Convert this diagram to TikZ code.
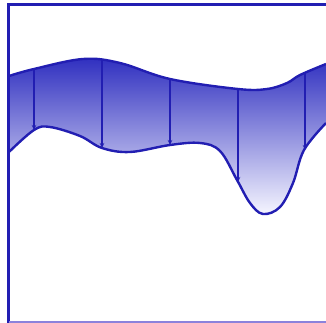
\documentclass[tikz,border=0pt]{standalone}
\usetikzlibrary{arrows.meta}
\definecolor{edgeblue}{RGB}{34,30,178}
\definecolor{shadetop}{RGB}{48,48,192}
\definecolor{shadebot}{RGB}{246,246,255}
\definecolor{framebot}{RGB}{140,130,220}
\tikzset{
  curve/.style={draw=edgeblue, line width=2.4pt, line join=round},
  flowarrow/.style={draw=edgeblue, line width=1.1pt, -{Stealth[length=5pt,width=4.5pt]}},
  frameline/.style={draw=edgeblue, line width=3pt},
}
\begin{document}
\begin{tikzpicture}[x=1pt,y=-1pt]
\useasboundingbox (0,0) rectangle (326,323);
% shaded band
\path[top color=shadetop, bottom color=shadebot]
  plot[smooth, tension=0.6] coordinates {(9,76) (34,69) (83,59) (120,63) (170,79) (238,89) (267,89) (287,83) (300,75) (326,64)}
  -- (326,123)
  -- plot[smooth, tension=0.6] coordinates {(326,123) (304,150) (293,183) (280,207) (263,214) (250,203) (237,180) (220,151) (200,143) (170,145) (130,152) (102,148) (80,136) (50,127) (34,130) (9,152)}
  -- cycle;
% boundary curves
\draw[curve] plot[smooth, tension=0.6] coordinates {(9,76) (34,69) (83,59) (120,63) (170,79) (238,89) (267,89) (287,83) (300,75) (326,64)};
\draw[curve] plot[smooth, tension=0.6] coordinates {(326,123) (304,150) (293,183) (280,207) (263,214) (250,203) (237,180) (220,151) (200,143) (170,145) (130,152) (102,148) (80,136) (50,127) (34,130) (9,152)};
% arrow end points
\coordinate (t1) at (34,70);  \coordinate (b1) at (34,130);
\coordinate (t2) at (102,60); \coordinate (b2) at (102,148);
\coordinate (t3) at (170,79); \coordinate (b3) at (170,145);
\coordinate (t4) at (238,89); \coordinate (b4) at (238,182);
\coordinate (t5) at (305,73); \coordinate (b5) at (305,150);
\foreach \i in {1,...,5} \draw[flowarrow] (t\i) -- (b\i);
% frame
\coordinate (fbl) at (8.5,323);
\coordinate (ftl) at (8.5,5);
\coordinate (ftr) at (326,5);
\draw[frameline] (fbl) -- (ftl) -- (ftr);
\draw[draw=framebot, line width=2pt] (8.5,322) -- (326,322);
\end{tikzpicture}
\end{document}
